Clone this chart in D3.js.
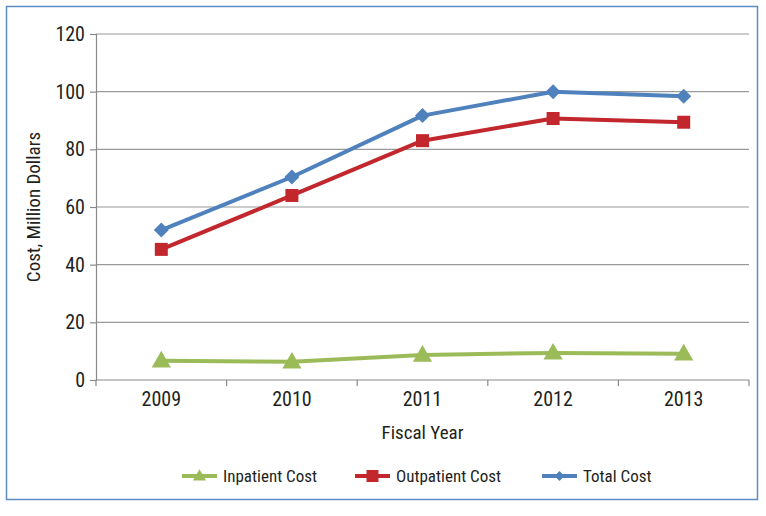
<!DOCTYPE html>
<html><head><meta charset="utf-8">
<script src="https://cdn.jsdelivr.net/npm/d3@7"></script>
<style>
body{margin:0;background:#fff;}
text{font-family:"Liberation Sans Narrow","Roboto Condensed","Liberation Sans",Arial,sans-serif;fill:#231f20;}
</style></head><body>
<svg id="c" width="766" height="516"></svg>
<script>
const years = ["2009","2010","2011","2012","2013"];
const inpatient = [6.7, 6.3, 8.7, 9.4, 9.1];
const outpatient = [45.3, 64.0, 83.0, 90.7, 89.4];
const total = [52.0, 70.4, 91.7, 100.0, 98.4];
const yTicks = [0,20,40,60,80,100,120];
const seriesNames = ["Inpatient Cost","Outpatient Cost","Total Cost"];
const seriesColors = ["#9bbb59","#c1272d","#4f81bd"];
const seriesShapes = ["triangle","square","diamond"];

const svg = d3.select("#c");
svg.append("rect").attr("x",6.5).attr("y",6.5).attr("width",751).attr("height",493)
  .attr("fill","#fff").attr("stroke","#5b8cc4").attr("stroke-width",1.5);

const L=96,R=749,T=34,B=380;
const x = d3.scaleBand().domain(years).range([L,R]);
const y = d3.scaleLinear().domain([0,120]).range([B,T]);
const FF = '"Liberation Sans Narrow","Roboto Condensed",Arial,sans-serif';

// gridlines
svg.append("g").selectAll("line").data(yTicks.filter(d=>d>0)).join("line")
  .attr("x1",L).attr("x2",R).attr("y1",d=>y(d)).attr("y2",d=>y(d))
  .attr("stroke","#9a9a9a").attr("stroke-width",1.2);

// y axis
const ya = svg.append("g").attr("transform",`translate(${L},0)`)
  .call(d3.axisLeft(y).tickValues(yTicks).tickSize(6).tickPadding(5));
ya.selectAll("path,line").attr("stroke","#8a8a8a").attr("stroke-width",1.2);
ya.selectAll("text").attr("font-size",20).style("font-family",FF).attr("fill","#231f20");

// x axis
const xa = svg.append("g").attr("transform",`translate(0,${B})`)
  .call(d3.axisBottom(x).tickSize(0).tickPadding(12));
xa.select("path").attr("stroke","#8a8a8a").attr("stroke-width",1.2).attr("d",`M${L},0H${R}`);
xa.selectAll("text").attr("font-size",20).style("font-family",FF).attr("fill","#231f20");
// category boundary ticks
svg.append("g").selectAll("line").data(years.concat(["end"])).join("line")
  .attr("x1",(d,i)=>L+i*x.step()).attr("x2",(d,i)=>L+i*x.step())
  .attr("y1",B).attr("y2",B+6).attr("stroke","#8a8a8a").attr("stroke-width",1.2);

// axis titles
svg.append("text").attr("transform",`translate(40,${(T+B)/2}) rotate(-90)`)
  .attr("text-anchor","middle").attr("font-size",19).text("Cost, Million Dollars");
svg.append("text").attr("x",(L+R)/2).attr("y",439).attr("text-anchor","middle")
  .attr("font-size",19).text("Fiscal Year");

const data = [inpatient,outpatient,total];
const cx = d=>x(d)+x.bandwidth()/2;
function marker(shape, s){
  if(shape==="triangle") return `M0,${-s*0.62}L${s*0.6},${s*0.42}L${-s*0.6},${s*0.42}Z`;
  if(shape==="square") return `M${-s/2},${-s/2}h${s}v${s}h${-s}Z`;
  return `M0,${-s/2}L${s/2},0L0,${s/2}L${-s/2},0Z`;
}
const msize = [16,13,15];

data.forEach((vals,si)=>{
  const line = d3.line().x((d,i)=>cx(years[i])).y(d=>y(d));
  svg.append("path").datum(vals).attr("d",line).attr("fill","none")
    .attr("stroke",seriesColors[si]).attr("stroke-width",4).attr("stroke-linejoin","round");
  svg.append("g").selectAll("path").data(vals).join("path")
    .attr("transform",(d,i)=>`translate(${cx(years[i])},${y(d)})`)
    .attr("d",marker(seriesShapes[si],msize[si]))
    .attr("fill",seriesColors[si]);
});

// legend
const lx=[182,355,542];
const lsize=[11,12,10];
seriesNames.forEach((n,i)=>{
  const g = svg.append("g").attr("transform",`translate(${lx[i]},476)`);
  g.append("line").attr("x1",0).attr("x2",35).attr("y1",0).attr("y2",0)
    .attr("stroke",seriesColors[i]).attr("stroke-width",4);
  g.append("path").attr("transform","translate(17.5,0)")
    .attr("d",marker(seriesShapes[i],lsize[i]))
    .attr("fill",seriesColors[i]);
  g.append("text").attr("x",41).attr("y",6).attr("font-size",17).text(n);
});
</script></body></html>
